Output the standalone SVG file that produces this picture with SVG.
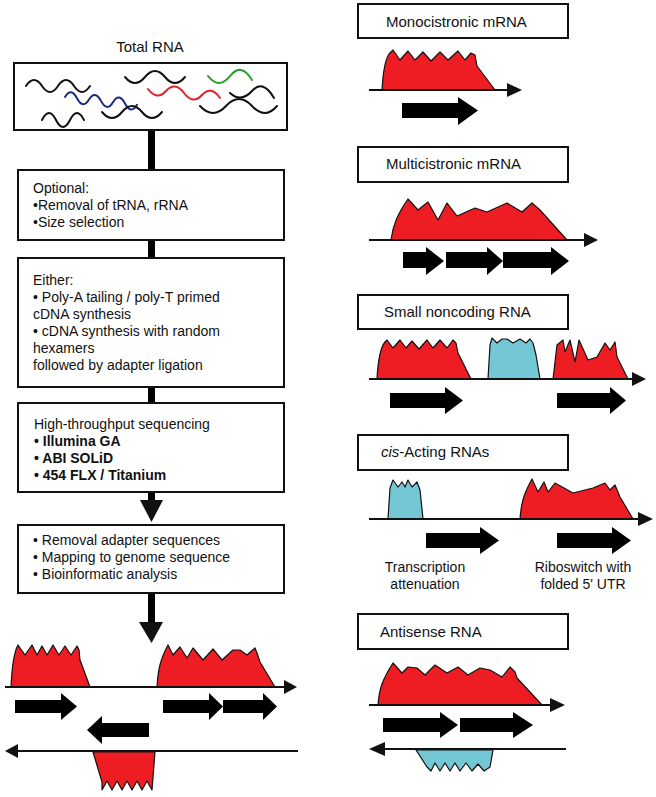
<svg xmlns="http://www.w3.org/2000/svg" width="656" height="797" viewBox="0 0 656 797">
<style>
text{font-family:"Liberation Sans",Arial,Helvetica,sans-serif;fill:#111}
.t{font-size:14px}
.h{font-size:15px}
.b{font-weight:bold}
.box{fill:#fff;stroke:#111;stroke-width:2}
.red{fill:#ee1d23;stroke:#111;stroke-width:1.2;stroke-linejoin:round}
.blue{fill:#74c7d4;stroke:#111;stroke-width:1.2;stroke-linejoin:round}
.axis{stroke:#111;stroke-width:2.2;fill:none}
.ah{fill:#111}
.gene{fill:#000}
.wave{fill:none;stroke-width:2;stroke-linecap:round}
.stem{stroke:#000;stroke-width:7;fill:none}
</style>
<rect width="656" height="797" fill="#fff"/>

<g id="connectors">
<line class="stem" x1="151.5" y1="130" x2="151.5" y2="170"/>
<line class="stem" x1="151.5" y1="240" x2="151.5" y2="258"/>
<line class="stem" x1="151.5" y1="387" x2="151.5" y2="403"/>
<line class="stem" x1="151.5" y1="492" x2="151.5" y2="501"/>
<polygon class="ah" points="140,500 163,500 151.5,522"/>
<line class="stem" x1="151.5" y1="593" x2="151.5" y2="623"/>
<polygon class="ah" points="139,622 163,622 151.5,643"/>
</g>

<g id="total-rna">
<text class="h" x="150" y="52" text-anchor="middle">Total RNA</text>
<rect class="box" x="14" y="63" width="273" height="67"/>
<path class="wave" stroke="#111" d="M26,86 q8,-12 16,0 t16,0 t16,0 t16,0"/>
<path class="wave" stroke="#1b2a80" d="M65,97 q6,-10 12,1.3 t12,1.3 t12,1.3 t12,1.3 t12,1.3 t12,1.3"/>
<path class="wave" stroke="#111" d="M42,120 q7,-14 14,0 t14,0 t14,0"/>
<path class="wave" stroke="#111" d="M102,112 q10,12 20,0 t20,0 t20,0"/>
<path class="wave" stroke="#111" d="M125,77 q10,12 20,0 t20,0 t20,0"/>
<path class="wave" stroke="#e0202a" d="M148,89 q9,12 18,2 t18,2 t18,2 t18,3"/>
<path class="wave" stroke="#2a9a2a" d="M208,76 q11,14 22,0 t22,4"/>
<path class="wave" stroke="#111" d="M230,93 q11,10 22,-2 t22,7"/>
<path class="wave" stroke="#111" d="M200,106 q13,14 26,0 t26,0 t25,0"/>
</g>

<g id="optional">
<rect class="box" x="18" y="170" width="266" height="70"/>
<text class="t" x="33" y="193">Optional:</text>
<text class="t" x="33" y="210">•Removal of tRNA, rRNA</text>
<text class="t" x="33" y="227">•Size selection</text>
</g>

<g id="either">
<rect class="box" x="18" y="258" width="266" height="129"/>
<text class="t" x="33" y="285">Either:</text>
<text class="t" x="33" y="302">• Poly-A tailing / poly-T primed</text>
<text class="t" x="33" y="319">cDNA synthesis</text>
<text class="t" x="33" y="336">• cDNA synthesis with random</text>
<text class="t" x="33" y="353">hexamers</text>
<text class="t" x="33" y="370">followed by adapter ligation</text>
</g>

<g id="sequencing">
<rect class="box" x="18" y="403" width="266" height="89"/>
<text class="t" x="34" y="429">High-throughput sequencing</text>
<text class="t b" x="34" y="446">• Illumina GA</text>
<text class="t b" x="34" y="463">• ABI SOLiD</text>
<text class="t b" x="34" y="480">• 454 FLX / Titanium</text>
</g>

<g id="analysis">
<rect class="box" x="18" y="525" width="266" height="68"/>
<text class="t" x="33" y="545">• Removal adapter sequences</text>
<text class="t" x="33" y="562">• Mapping to genome sequence</text>
<text class="t" x="33" y="579">• Bioinformatic analysis</text>
</g>

<g id="genome-map">
<path class="red" d="M11,687 C12,665 14,652 18,645 L25,655 L32,645 L37,655 L42,646 L47,655 L53,645 L59,655 L65,646 L71,655 L77,646 L79,650 L80,660 L90,687 Z"/>
<path class="red" d="M157,687 C158,670 160,660 168,645 L173,655 L180,647 L187,658 L193,648 L203,660 L213,649 L222,660 L233,650 L240,650 L247,655 L255,648 L257,653 L260,662 L275,687 Z"/>
<path class="red" d="M93,752 L102,782 L102,790 L107,781 L112,790 L117,781 L122,790 L127,781 L132,790 L137,781 L142,790 L147,781 L152,790 L155,752 Z"/>
<line class="axis" x1="5" y1="687" x2="285" y2="687"/>
<polygon class="ah" points="284,680 297,687 284,694"/>
<line class="axis" x1="17" y1="751" x2="298" y2="751"/>
<polygon class="ah" points="18,744 5,751 18,758"/>
<polygon class="gene" points="15,700 61,700 61,693 77,706.5 61,720 61,713 15,713"/>
<polygon class="gene" points="163,700 209,700 209,693 223,706.5 209,720 209,713 163,713"/>
<polygon class="gene" points="223,700 263,700 263,693 277,706.5 263,720 263,713 223,713"/>
<polygon class="gene" points="149,723 102,723 102,716 87,730 102,744 102,737 149,737"/>
</g>

<g id="monocistronic">
<rect class="box" x="358" y="4" width="210" height="34"/>
<text class="h" x="386" y="27">Monocistronic mRNA</text>
<path class="red" d="M382,90 C383,72 385,60 389,54 L393,50 L400,60 L408,51 L415,60 L423,52 L431,61 L440,52 L448,60 L458,51 L465,60 L471,53 L475,55 L477,66 L495,90 Z"/>
<line class="axis" x1="369" y1="90" x2="508" y2="90"/>
<polygon class="ah" points="507,83 522,90 507,97"/>
<polygon class="gene" points="402,103 458,103 458,97 478,110.5 458,125 458,118 402,118"/>
</g>

<g id="multicistronic">
<rect class="box" x="358" y="147" width="210" height="35"/>
<text class="h" x="386" y="169">Multicistronic mRNA</text>
<path class="red" d="M391,240 C393,225 397,215 408,199 L418,210 L428,202 L438,220 L447,203 L457,216 L475,208 L487,212 L507,203 L522,212 L532,203 L540,210 L567,240 Z"/>
<line class="axis" x1="369" y1="240" x2="585" y2="240"/>
<polygon class="ah" points="584,233 598,240 584,247"/>
<polygon class="gene" points="403,252 426,252 426,247 444,261 426,275 426,268 403,268"/>
<polygon class="gene" points="446,252 487,252 487,247 503,261 487,275 487,268 446,268"/>
<polygon class="gene" points="503,252 551,252 551,247 569,261 551,275 551,268 503,268"/>
</g>

<g id="small-ncrna">
<rect class="box" x="358" y="295" width="210" height="34"/>
<text class="h" x="384" y="317">Small noncoding RNA</text>
<path class="red" d="M377,379 C378,360 380,348 385,342 L387,340 L393,348 L400,340 L406,348 L412,341 L419,349 L427,340 L433,348 L440,340 L447,348 L453,340 L456,343 L458,353 L471,379 Z"/>
<path class="blue" d="M488,379 L490,345 L492,338 L497,343 L502,339 L507,339 L513,343 L520,339 L526,343 L530,339 L533,343 L536,355 L540,379 Z"/>
<path class="red" d="M553,379 L557,345 L563,340 L565,352 L570,340 L575,362 L579,340 L588,360 L597,357 L605,343 L610,350 L615,342 L617,357 L628,379 Z"/>
<line class="axis" x1="369" y1="379" x2="633" y2="379"/>
<polygon class="ah" points="632,372 646,379 632,386"/>
<polygon class="gene" points="390,393 445,393 445,387 463,400.5 445,414 445,408 390,408"/>
<polygon class="gene" points="557,393 610,393 610,387 626,400.5 610,414 610,408 557,408"/>
</g>

<g id="cis-acting">
<rect class="box" x="358" y="435" width="210" height="35"/>
<text class="h" x="381" y="457"><tspan font-style="italic">cis</tspan>-Acting RNAs</text>
<path class="blue" d="M388,519 L390,488 L393,480 L398,487 L402,482 L405,487 L408,480 L412,487 L417,482 L420,490 L423,519 Z"/>
<path class="red" d="M520,519 C521,505 523,495 532,479 L538,492 L544,482 L548,492 L555,483 L573,493 L593,488 L605,483 L610,490 L615,485 L620,497 L633,519 Z"/>
<line class="axis" x1="369" y1="519" x2="639" y2="519"/>
<polygon class="ah" points="638,512 653,519 638,526"/>
<polygon class="gene" points="426,533 480,533 480,527 499,540.5 480,554 480,548 426,548"/>
<polygon class="gene" points="557,533 612,533 612,527 631,540.5 612,554 612,548 557,548"/>
<text class="t" x="425" y="572" text-anchor="middle">Transcription</text>
<text class="t" x="425" y="589" text-anchor="middle">attenuation</text>
<text class="t" x="583" y="572" text-anchor="middle">Riboswitch with</text>
<text class="t" x="583" y="589" text-anchor="middle">folded 5' UTR</text>
</g>

<g id="antisense">
<rect class="box" x="358" y="614" width="210" height="35"/>
<text class="h" x="380" y="637">Antisense RNA</text>
<path class="red" d="M378,705 C379,690 382,680 393,663 L402,673 L408,667 L417,668 L425,675 L435,665 L447,673 L458,667 L468,675 L480,668 L490,670 L502,677 L510,667 L515,672 L517,678 L542,705 Z"/>
<path class="blue" d="M416,750 L427,767 L431,771 L435,763 L440,771 L445,763 L450,771 L455,763 L460,771 L466,763 L472,771 L478,764 L484,771 L490,767 L493,750 Z"/>
<line class="axis" x1="369" y1="705" x2="551" y2="705"/>
<polygon class="ah" points="550,698 565,705 550,712"/>
<line class="axis" x1="384" y1="749" x2="566" y2="749"/>
<polygon class="ah" points="385,742 369,749 385,756"/>
<polygon class="gene" points="383,718 440,718 440,712 458,725 440,738 440,732 383,732"/>
<polygon class="gene" points="460,718 513,718 513,712 533,725 513,738 513,732 460,732"/>
</g>
</svg>
